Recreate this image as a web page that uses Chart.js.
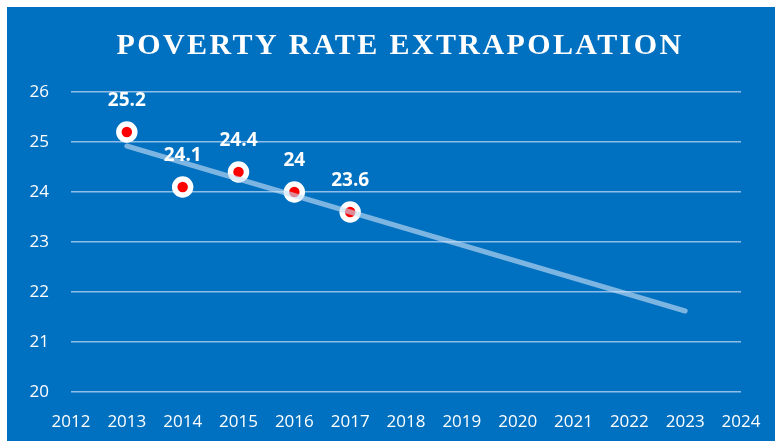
<!DOCTYPE html>
<html>
<head>
<meta charset="utf-8">
<script src="https://cdn.jsdelivr.net/npm/chart.js@4"></script>
<style>
  html, body { margin: 0; padding: 0; background: #fff; }
  #wrap { position: absolute; left: 7px; top: 7px; width: 768px; height: 434px; background: #0070C0; }
</style>
</head>
<body>
<div id="wrap"><canvas id="myChart" width="768" height="434"></canvas></div>
<script>
// Poverty rate by year, plus the linear trend drawn out to 2023
var years = [2013, 2014, 2015, 2016, 2017];
var rates = [25.2, 24.1, 24.4, 24, 23.6];
var trendYears = [2013, 2023];
var trendRates = [24.92, 21.62];
var title = "POVERTY RATE EXTRAPOLATION";

var tickFont = { family: "'Open Sans', 'Noto Sans', sans-serif", size: 17 };

// Title with letter spacing (the built-in title can't do that)
var titlePlugin = {
    id: "spacedTitle",
    afterDraw: function (chart) {
        var ctx = chart.ctx;
        ctx.save();
        ctx.font = "bold 30px 'Liberation Serif', 'DejaVu Serif', serif";
        ctx.letterSpacing = "2.4px";
        ctx.fillStyle = "#ffffff";
        ctx.textAlign = "center";
        ctx.textBaseline = "alphabetic";
        ctx.fillText(title, 393, 47);
        ctx.restore();
    }
};

// Value labels above the points
var labelPlugin = {
    id: "valueLabels",
    afterDatasetsDraw: function (chart) {
        var ctx = chart.ctx;
        var meta = chart.getDatasetMeta(1);
        ctx.save();
        ctx.font = "bold 19px 'Open Sans', 'Noto Sans', sans-serif";
        ctx.fillStyle = "#ffffff";
        ctx.textAlign = "center";
        ctx.textBaseline = "middle";
        meta.data.forEach(function (pt, i) {
            ctx.fillText(String(rates[i]), pt.x, pt.y - 31);
        });
        ctx.restore();
    }
};

var ctx = document.getElementById("myChart").getContext("2d");

var myChart = new Chart(ctx, {
    type: "line",
    data: {
        datasets: [
            {
                label: "Trend",
                data: trendYears.map(function (y, i) { return { x: y, y: trendRates[i] }; }),
                borderColor: "rgba(200, 225, 245, 0.62)",
                borderWidth: 5,
                borderCapStyle: "round",
                pointRadius: 0,
                fill: false
            },
            {
                label: "Poverty rate",
                data: years.map(function (y, i) { return { x: y, y: rates[i] }; }),
                showLine: false,
                pointRadius: 8,
                pointBorderWidth: 5.5,
                pointBackgroundColor: "#FF0000",
                pointBorderColor: "#ffffff"
            }
        ]
    },
    options: {
        responsive: false,
        animation: false,
        layout: { padding: { top: 85, right: 34, left: 0, bottom: 0 } },
        plugins: {
            legend: { display: false },
            tooltip: { enabled: false }
        },
        scales: {
            x: {
                type: "linear",
                min: 2012,
                max: 2024,
                grid: { display: false },
                border: { display: false },
                ticks: {
                    stepSize: 1,
                    color: "#ffffff",
                    font: tickFont,
                    padding: 12,
                    maxRotation: 0,
                    autoSkip: false,
                    callback: function (v) { return String(v); }
                },
                afterFit: function (scale) { scale.height = 49; }
            },
            y: {
                min: 20,
                max: 26,
                grid: { color: "rgba(190, 215, 245, 0.75)", lineWidth: 1.5, drawTicks: false },
                border: { display: false },
                ticks: {
                    stepSize: 1,
                    color: "#ffffff",
                    font: tickFont,
                    padding: 22
                },
                afterFit: function (scale) { scale.width = 64; }
            }
        }
    },
    plugins: [titlePlugin, labelPlugin]
});
</script>
</body>
</html>
